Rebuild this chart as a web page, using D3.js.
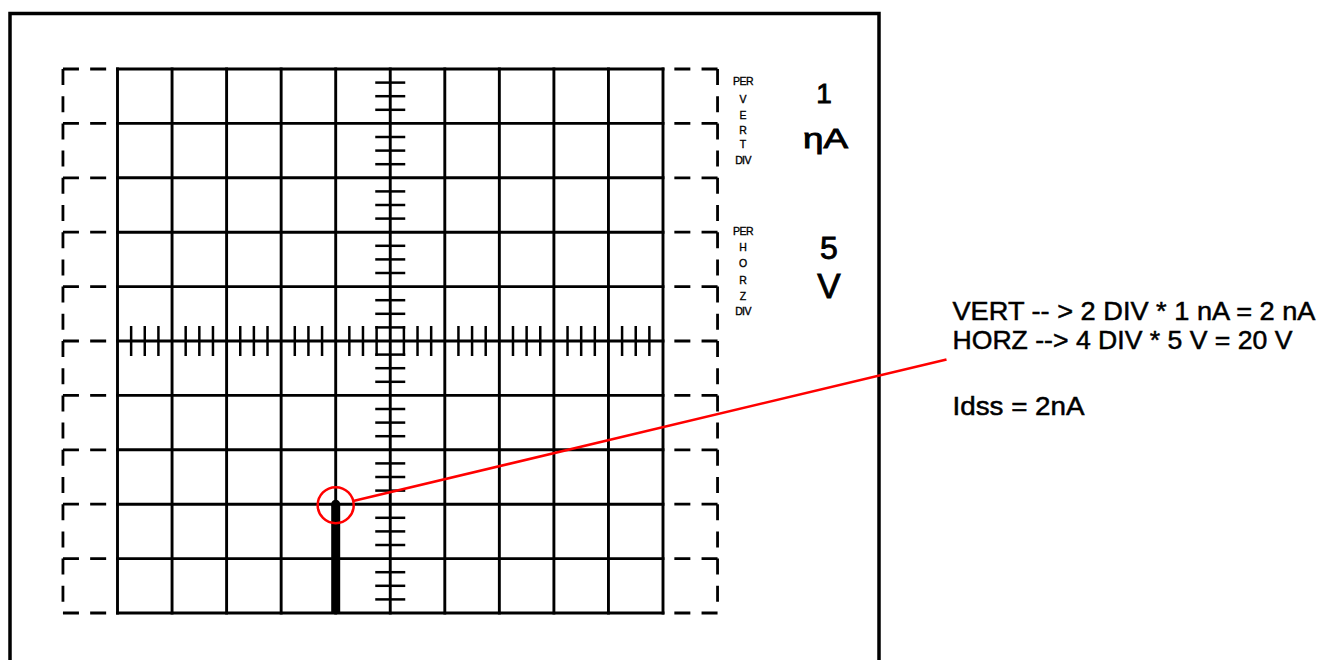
<!DOCTYPE html>
<html>
<head>
<meta charset="utf-8">
<script src="https://cdn.jsdelivr.net/npm/d3@7"></script>
<style>
  html, body { margin: 0; padding: 0; background: #fff; }
  svg { display: block; }
  text { font-family: "Liberation Sans", Arial, sans-serif; fill: #000; stroke: #000; }
</style>
</head>
<body>
<script>
// Graticule: 10 horizontal divisions at 5 V/div, 10 vertical divisions at 1 nA/div
const voltGrid = [0, 5, 10, 15, 20, 25, 30, 35, 40, 45, 50];
const currentGrid = [0, 1, 2, 3, 4, 5, 6, 7, 8, 9, 10];
const voltsPerDiv = 5;
const nanoampsPerDiv = 1;
const minorPerDiv = 4;

// Measured trace: Idss at 20 V, rising from 0 to 2 nA
const traceVolts = [20, 20];
const traceCurrent = [0, 2];

// Scale-factor panel
const vertCaption = ["PER", "V", "E", "R", "T", "DIV"];
const horzCaption = ["PER", "H", "O", "R", "Z", "DIV"];
const vertSetting = ["1", "\u03b7A"];
const horzSetting = ["5", "V"];

// Worked readout
const readout = [
  "VERT -- > 2 DIV * 1 nA = 2 nA",
  "HORZ --> 4 DIV * 5 V = 20 V",
  "Idss = 2nA"
];

const W = 1323, H = 660;
const svg = d3.select("body").append("svg").attr("width", W).attr("height", H);
svg.append("rect").attr("width", W).attr("height", H).attr("fill", "#fff");

const x = d3.scaleLinear().domain([0, 50]).range([117.5, 663]);
const y = d3.scaleLinear().domain([0, 10]).range([613, 69]);

// Outer instrument frame (runs off the bottom edge)
svg.append("rect")
  .attr("x", 10).attr("y", 13.5)
  .attr("width", 869).attr("height", 720)
  .attr("fill", "none").attr("stroke", "#000").attr("stroke-width", 3.5);

// Dashed overscan area: one extra division on each side
const xLo = x(-voltsPerDiv), xHi = x(50 + voltsPerDiv);
const dashed = svg.append("g")
  .attr("stroke", "#000").attr("stroke-width", 2.8).attr("fill", "none")
  .attr("stroke-dasharray", "16,11.2");
[xLo, xHi].forEach(px => {
  dashed.append("line").attr("x1", px).attr("x2", px)
    .attr("y1", y(10)).attr("y2", y(0));
});
currentGrid.forEach(c => {
  dashed.append("line").attr("x1", xLo).attr("x2", x(0))
    .attr("y1", y(c)).attr("y2", y(c));
  dashed.append("line").attr("x1", xHi).attr("x2", x(50))
    .attr("y1", y(c)).attr("y2", y(c));
});

// Solid graticule lines
const grid = svg.append("g")
  .attr("stroke", "#000").attr("stroke-width", 2.9).attr("stroke-linecap", "square");
grid.selectAll("line.v").data(voltGrid).join("line").attr("class", "v")
  .attr("x1", d => x(d)).attr("x2", d => x(d))
  .attr("y1", y(0)).attr("y2", y(10));
grid.selectAll("line.h").data(currentGrid).join("line").attr("class", "h")
  .attr("x1", x(0)).attr("x2", x(50))
  .attr("y1", d => y(d)).attr("y2", d => y(d));

// Minor ticks on the centre axes
const cx = x(25), cy = y(5), tickHalf = 15;
const minorVolts = [], minorCurrent = [];
voltGrid.slice(0, -1).forEach(v => {
  for (let s = 1; s < minorPerDiv; s++) minorVolts.push(v + s * voltsPerDiv / minorPerDiv);
});
currentGrid.slice(0, -1).forEach(c => {
  for (let s = 1; s < minorPerDiv; s++) minorCurrent.push(c + s * nanoampsPerDiv / minorPerDiv);
});
const ticks = svg.append("g").attr("stroke", "#000").attr("stroke-width", 2.5);
ticks.selectAll("line.tx").data(minorVolts).join("line").attr("class", "tx")
  .attr("x1", d => x(d)).attr("x2", d => x(d))
  .attr("y1", cy - tickHalf).attr("y2", cy + tickHalf);
ticks.selectAll("line.ty").data(minorCurrent).join("line").attr("class", "ty")
  .attr("x1", cx - tickHalf).attr("x2", cx + tickHalf)
  .attr("y1", d => y(d)).attr("y2", d => y(d));

// Trace
const trace = traceVolts.map((v, i) => [v, traceCurrent[i]]);
svg.append("path")
  .datum(trace)
  .attr("d", d3.line().x(d => x(d[0])).y(d => y(d[1])))
  .attr("fill", "none").attr("stroke", "#000").attr("stroke-width", 9);
// rounded top of the trace
svg.append("circle").attr("cx", x(traceVolts[1])).attr("cy", y(traceCurrent[1]))
  .attr("r", 4.5).attr("fill", "#000");

// Highlight of the Idss point and leader to the readout
const px = x(traceVolts[1]), py = y(traceCurrent[1]);
const r = 18;
svg.append("circle").attr("cx", px).attr("cy", py + 1).attr("r", r)
  .attr("fill", "none").attr("stroke", "#f00").attr("stroke-width", 2.5);
const leadEnd = [946.5, 359.5];
const ang = Math.atan2(leadEnd[1] - (py + 1), leadEnd[0] - px);
svg.append("line")
  .attr("x1", px + r * Math.cos(ang)).attr("y1", py + 1 + r * Math.sin(ang))
  .attr("x2", leadEnd[0]).attr("y2", leadEnd[1])
  .attr("stroke", "#f00").attr("stroke-width", 2.5);

// Scale-factor captions
const capX = 743;
const vertY = [85, 103, 118.5, 133.5, 148, 163.5];
const horzY = [235, 251, 267, 283.5, 299.5, 315];
svg.append("g").selectAll("text").data(vertCaption).join("text")
  .attr("x", capX).attr("y", (d, i) => vertY[i])
  .attr("text-anchor", "middle").attr("font-size", 10.5).attr("stroke-width", 0.35)
  .attr("letter-spacing", d => d.length > 1 ? -0.6 : 0)
  .text(d => d);
svg.append("g").selectAll("text").data(horzCaption).join("text")
  .attr("x", capX).attr("y", (d, i) => horzY[i])
  .attr("text-anchor", "middle").attr("font-size", 10.5).attr("stroke-width", 0.35)
  .attr("letter-spacing", d => d.length > 1 ? -0.6 : 0)
  .text(d => d);

// Scale-factor values
svg.append("text").attr("x", 824).attr("y", 103).attr("text-anchor", "middle")
  .attr("font-size", 28).attr("stroke-width", 0.9).text(vertSetting[0]);
svg.append("text").attr("x", 803).attr("y", 148)
  .attr("font-size", 28).attr("stroke-width", 0.9)
  .attr("textLength", 45).attr("lengthAdjust", "spacingAndGlyphs")
  .text(vertSetting[1]);
svg.append("text").attr("x", 829).attr("y", 259).attr("text-anchor", "middle")
  .attr("font-size", 32).attr("stroke-width", 0.9).text(horzSetting[0]);
svg.append("text").attr("x", 829).attr("y", 298).attr("text-anchor", "middle")
  .attr("font-size", 35).attr("stroke-width", 0.9).text(horzSetting[1]);

// Readout text
const readY = [320, 348.5, 415];
const readW = [363, 340, 132];
svg.append("g").selectAll("text").data(readout).join("text")
  .attr("x", 952.5).attr("y", (d, i) => readY[i])
  .attr("font-size", 26).attr("stroke-width", 0.5)
  .attr("textLength", (d, i) => readW[i]).attr("lengthAdjust", "spacingAndGlyphs")
  .text(d => d);
</script>
</body>
</html>
